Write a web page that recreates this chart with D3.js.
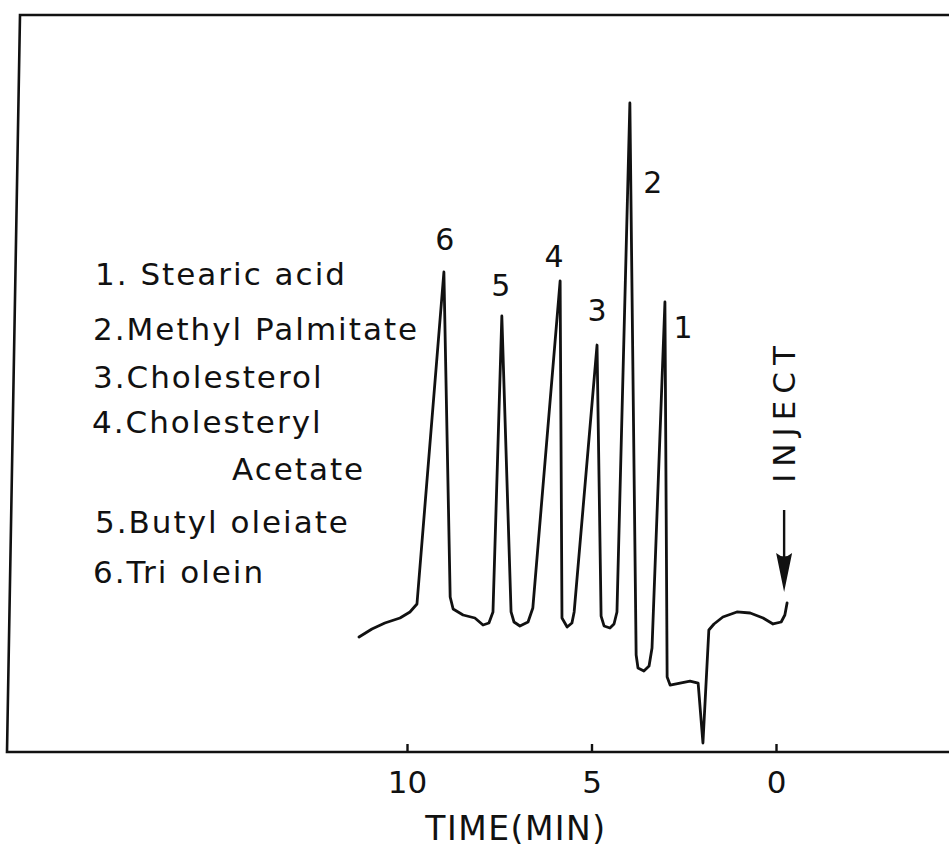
<!DOCTYPE html>
<html>
<head>
<meta charset="utf-8">
<script src="https://cdn.jsdelivr.net/npm/d3@7/dist/d3.min.js"></script>
<style>
  html, body { margin: 0; padding: 0; background: #fff; }
  svg { display: block; }
  text { font-family: "DejaVu Sans", "Noto Sans", sans-serif; fill: #111; }
</style>
</head>
<body>
<svg id="chart" width="949" height="854"></svg>
<script>
// Retention time (min) and detector response (arbitrary units) of the recorder trace
const traceTime = [
  11.30, 10.95, 10.60, 10.19, 9.92, 9.73, 9.00, 8.83, 8.75, 8.48,
  8.16, 7.94, 7.78, 7.67, 7.43, 7.18, 7.10, 6.94, 6.72, 6.59,
  5.85, 5.80, 5.66, 5.53, 5.47, 4.85, 4.74, 4.66, 4.50, 4.39,
  4.31, 3.96, 3.79, 3.74, 3.58, 3.44, 3.36, 3.01, 2.95, 2.87,
  2.60, 2.33, 2.11, 1.98, 1.82, 1.68, 1.44, 1.06, 0.70, 0.35,
  0.08, -0.14, -0.24, -0.30
];
const traceResponse = [
  15.60, 16.69, 17.50, 18.18, 19.00, 20.08, 65.13, 21.03, 19.40, 18.59,
  18.18, 17.23, 17.50, 19.00, 59.16, 19.00, 17.64, 17.10, 17.64, 19.54,
  63.91, 18.18, 16.96, 17.50, 19.00, 55.22, 18.45, 17.10, 16.82, 17.37,
  19.00, 88.06, 13.16, 11.40, 10.99, 11.67, 14.11, 61.06, 10.18, 9.09,
  9.36, 9.63, 9.36, 1.22, 16.55, 17.37, 18.32, 19.00, 18.86, 18.18,
  17.37, 17.64, 18.59, 20.22
];

// Peak numbers with their apex retention times and heights
const peakNumbers = ["6", "5", "4", "3", "2", "1"];
const peakTimes = [9.00, 7.43, 5.85, 4.85, 3.96, 3.01];
const peakHeights = [65.13, 59.16, 63.91, 55.22, 88.06, 61.06];

// Compound key
const legendLines = [
  "1. Stearic acid",
  "2.Methyl Palmitate",
  "3.Cholesterol",
  "4.Cholesteryl",
  "Acetate",
  "5.Butyl oleiate",
  "6.Tri olein"
];

const tickValues = [10, 5, 0];
const axisTitle = "TIME(MIN)";
const injectLabel = "INJECT";
const injectTime = -0.22;

const svg = d3.select("#chart");

// Time runs right-to-left on the recorder chart
const x = d3.scaleLinear().domain([10, 0]).range([407, 776]);
const y = d3.scaleLinear().domain([0, 100]).range([752, 15]);

// Frame: top edge, hand-ruled left edge, time axis baseline
svg.append("path")
  .attr("d", "M949,15 L20,15 L7,752 L949,752")
  .attr("fill", "none")
  .attr("stroke", "#111")
  .attr("stroke-width", 2.6);

// Time axis: short ticks pointing up, labels below
const axis = d3.axisBottom(x)
  .tickValues(tickValues)
  .tickSizeInner(-8)
  .tickSizeOuter(0)
  .tickPadding(0)
  .tickFormat(d3.format("d"));

const axisG = svg.append("g")
  .attr("transform", "translate(0,752)")
  .call(axis);
axisG.select(".domain").remove();
axisG.selectAll(".tick line")
  .attr("stroke", "#111")
  .attr("stroke-width", 2.4);
axisG.selectAll(".tick text")
  .attr("y", 41)
  .attr("dy", 0)
  .attr("font-family", "'DejaVu Sans Condensed', 'DejaVu Sans', sans-serif")
  .attr("font-size", 31)
  .attr("fill", "#111");

svg.append("text")
  .attr("x", 516)
  .attr("y", 840)
  .attr("text-anchor", "middle")
  .attr("font-size", 33)
  .attr("letter-spacing", 1.5)
  .text(axisTitle);

// Recorder trace
const points = traceTime.map((t, i) => [t, traceResponse[i]]);
const line = d3.line()
  .x(d => x(d[0]))
  .y(d => y(d[1]))
  .curve(d3.curveLinear);

svg.append("path")
  .datum(points)
  .attr("d", line)
  .attr("fill", "none")
  .attr("stroke", "#111")
  .attr("stroke-width", 2.8)
  .attr("stroke-linejoin", "round")
  .attr("stroke-linecap", "round");

// Peak numbers beside each apex
const labelOffsets = [[1, -22], [-1, -20], [-6, -14], [0, -24], [23, 90], [18, 36]];
svg.selectAll(".peak-label")
  .data(peakNumbers)
  .join("text")
  .attr("class", "peak-label")
  .attr("x", (d, i) => x(peakTimes[i]) + labelOffsets[i][0])
  .attr("y", (d, i) => y(peakHeights[i]) + labelOffsets[i][1])
  .attr("text-anchor", "middle")
  .attr("font-size", 30)
  .text(d => d);

// Compound key
const legendX = [95, 93, 93, 92, 232, 95, 93];
const legendY = [285, 340, 388, 433, 480, 533, 583];
svg.selectAll(".key")
  .data(legendLines)
  .join("text")
  .attr("class", "key")
  .attr("x", (d, i) => legendX[i])
  .attr("y", (d, i) => legendY[i])
  .attr("font-size", 31)
  .attr("letter-spacing", 2)
  .text(d => d);

// Injection marker: vertical label and downward arrow
const injX = x(injectTime);
svg.append("text")
  .attr("transform", `translate(${injX + 11},411) rotate(-90)`)
  .attr("text-anchor", "middle")
  .attr("font-size", 31)
  .attr("letter-spacing", 7)
  .text(injectLabel);

svg.append("line")
  .attr("x1", injX).attr("y1", 510)
  .attr("x2", injX).attr("y2", 570)
  .attr("stroke", "#111")
  .attr("stroke-width", 2.4);

svg.append("path")
  .attr("d", `M${injX - 8},553 Q${injX},560 ${injX + 8},553 L${injX},592 Z`)
  .attr("fill", "#111");
</script>
</body>
</html>
